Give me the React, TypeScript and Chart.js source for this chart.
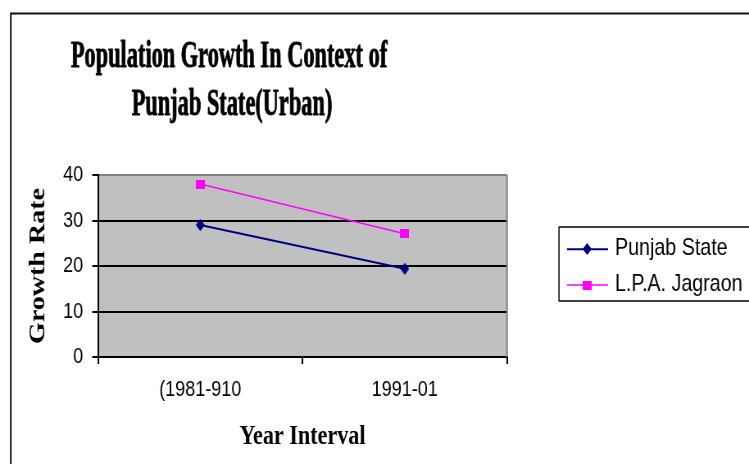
import React, { useEffect, useRef } from 'react';
import { Chart, registerables } from 'chart.js';

Chart.register(...registerables);

// ---- data ----
const categories = ['(1981-910', '1991-01'];
const punjabState = [29.0, 19.4];
const lpaJagraon = [38.0, 27.1];
const seriesNames = ['Punjab State', 'L.P.A. Jagraon'];
const seriesColors = ['#000080', '#FF00FF'];
const titleLines = ['Population Growth In Context of', 'Punjab State(Urban)'];
const yAxisTitle = 'Growth Rate';
const xAxisTitle = 'Year Interval';
const yMin = 0;
const yMax = 40;
const yStep = 10;

// ---- layout (canvas drawn wider, squeezed horizontally) ----
const CW = 914;
const CH = 464;
const SX = 749 / CW;
const rx = (x: number) => x / SX;

function makeDiamond(w: number, h: number, color: string) {
  const c = document.createElement('canvas');
  c.width = w;
  c.height = h;
  const g = c.getContext('2d')!;
  g.fillStyle = color;
  g.beginPath();
  g.moveTo(w / 2, 0);
  g.lineTo(w, h / 2);
  g.lineTo(w / 2, h);
  g.lineTo(0, h / 2);
  g.closePath();
  g.fill();
  return c;
}

function makeRect(w: number, h: number, color: string) {
  const c = document.createElement('canvas');
  c.width = w;
  c.height = h;
  const g = c.getContext('2d')!;
  g.fillStyle = color;
  g.fillRect(0, 0, w, h);
  return c;
}

export default function App() {
  const ref = useRef<HTMLCanvasElement | null>(null);

  useEffect(() => {
    if (!ref.current) return;
    const diamond = makeDiamond(11, 12, seriesColors[0]);
    const square = makeRect(11, 9, seriesColors[1]);
    const markers = [diamond, square];

    const deco = {
      id: 'deco',
      beforeDraw(chart: any) {
        const { ctx, chartArea: a } = chart;
        ctx.save();
        ctx.fillStyle = '#ffffff';
        ctx.fillRect(0, 0, chart.width, chart.height);
        ctx.fillStyle = '#C0C0C0';
        ctx.fillRect(a.left, a.top, a.right - a.left, a.bottom - a.top);
        ctx.restore();
      },
      afterDraw(chart: any) {
        const { ctx, chartArea: a } = chart;
        ctx.save();
        // plot right border
        ctx.strokeStyle = '#808080';
        ctx.lineWidth = 2;
        ctx.beginPath();
        ctx.moveTo(a.right, a.top);
        ctx.lineTo(a.right, a.bottom);
        ctx.stroke();
        // outer chart border
        ctx.strokeStyle = '#111';
        ctx.lineWidth = 2;
        ctx.strokeRect(rx(10.8), 13.5, 3000, 3000);
        // title
        ctx.fillStyle = '#000';
        ctx.strokeStyle = '#000';
        ctx.lineWidth = 0.9;
        ctx.lineJoin = 'round';
        ctx.font = 'bold 38px "Liberation Serif"';
        ctx.textAlign = 'center';
        ctx.textBaseline = 'alphabetic';
        const centers = [rx(229), rx(232)];
        const baselines = [67, 115];
        titleLines.forEach((t, i) => {
          ctx.save();
          ctx.translate(centers[i], baselines[i]);
          ctx.scale(0.718, 1);
          ctx.fillText(t, 0, 0);
          ctx.strokeText(t, 0, 0);
          ctx.restore();
        });
        // legend
        ctx.strokeStyle = '#000';
        ctx.lineWidth = 1.5;
        ctx.strokeRect(rx(559), 227, 3000, 74);
        const ys = [249.3, 285];
        chart.data.datasets.forEach((ds: any, i: number) => {
          const y = ys[i];
          ctx.strokeStyle = ds.borderColor;
          ctx.lineWidth = ds.borderWidth;
          ctx.beginPath();
          ctx.moveTo(rx(567), y);
          ctx.lineTo(rx(608), y);
          ctx.stroke();
          const m = markers[i];
          const cx = rx(587.5);
          ctx.drawImage(m, Math.round(cx - m.width / 2), Math.round(y - m.height / 2));
          ctx.fillStyle = '#000';
          ctx.font = '24px "Liberation Sans"';
          ctx.textAlign = 'left';
          ctx.textBaseline = 'middle';
          ctx.fillText(ds.label, rx(615), y - 1);
        });
        ctx.restore();
      },
    };

    const chart = new Chart(ref.current, {
      type: 'line',
      data: {
        labels: categories,
        datasets: [
          {
            label: seriesNames[0],
            data: punjabState,
            borderColor: seriesColors[0],
            backgroundColor: seriesColors[0],
            borderWidth: 2,
            pointStyle: diamond as any,
            pointRadius: 5,
            tension: 0,
          },
          {
            label: seriesNames[1],
            data: lpaJagraon,
            borderColor: seriesColors[1],
            backgroundColor: seriesColors[1],
            borderWidth: 1.5,
            pointStyle: square as any,
            pointRadius: 5,
            tension: 0,
          },
        ],
      },
      options: {
        animation: false,
        responsive: false,
        devicePixelRatio: 1,
        layout: { padding: { left: 12, top: 175, right: CW - rx(507), bottom: 0 } },
        plugins: {
          legend: { display: false },
          title: { display: false },
          tooltip: { enabled: false },
        },
        scales: {
          x: {
            type: 'category',
            offset: true,
            grid: {
              display: true,
              drawOnChartArea: false,
              drawTicks: true,
              tickLength: 7,
              color: '#000',
              lineWidth: 2,
              offset: true,
            },
            border: { display: true, color: '#000', width: 2 },
            ticks: {
              color: '#000',
              font: { family: '"Liberation Sans"', size: 22 },
              padding: 13,
              maxRotation: 0,
              autoSkip: false,
            },
            title: {
              display: true,
              text: xAxisTitle,
              color: '#000',
              font: { family: '"Liberation Serif"', size: 27, weight: 'bold' },
              padding: { top: 0, bottom: 10.8 },
            },
            afterFit: (s: any) => {
              s.height = CH - 357;
            },
          },
          y: {
            min: yMin,
            max: yMax,
            ticks: {
              stepSize: yStep,
              color: '#000',
              font: { family: '"Liberation Sans"', size: 22 },
              padding: 11,
            },
            grid: {
              color: (c: any) => (c.tick && c.tick.value === yMax ? '#808080' : '#000'),
              tickColor: '#000',
              lineWidth: 2,
              tickLength: 7,
            },
            border: { display: true, color: '#000', width: 2 },
            title: {
              display: true,
              text: yAxisTitle,
              color: '#000',
              font: { family: '"Liberation Serif"', size: 28, weight: 'bold' },
              padding: { top: 17.9, bottom: 0 },
            },
            afterFit: (s: any) => {
              s.width = rx(98) - 12;
            },
          },
        },
      } as any,
      plugins: [deco],
    });

    return () => chart.destroy();
  }, []);

  return (
    <div
      style={{
        position: 'fixed',
        left: 0,
        top: 0,
        width: 749,
        height: 464,
        overflow: 'hidden',
        background: '#fff',
      }}
    >
      <div
        style={{
          width: CW,
          height: CH,
          transform: `scaleX(${SX})`,
          transformOrigin: '0 0',
        }}
      >
        <canvas ref={ref} width={CW} height={CH} style={{ display: 'block' }} />
      </div>
    </div>
  );
}
